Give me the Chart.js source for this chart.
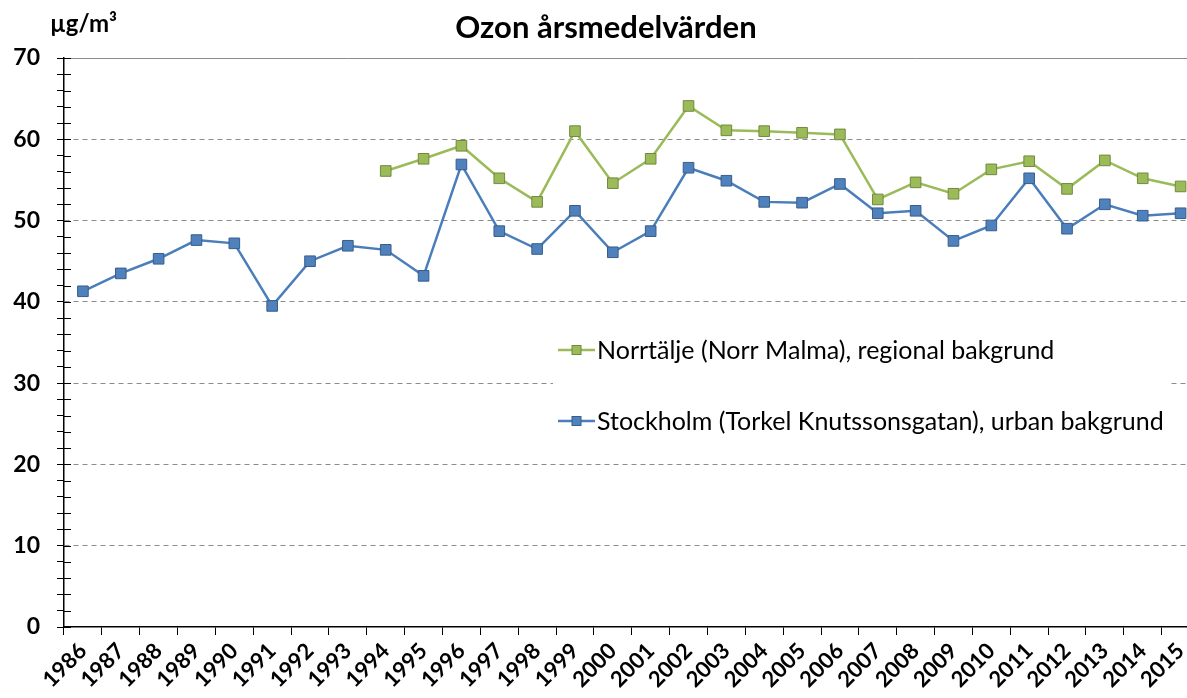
<!DOCTYPE html>
<html>
<head>
<meta charset="utf-8">
<script src="https://cdn.jsdelivr.net/npm/chart.js@4"></script>
<style>
  html, body { margin: 0; padding: 0; background: #fff; overflow: hidden; }
</style>
</head>
<body>
<!-- the original picture is cut off on the right, so the canvas is a bit wider than the window -->
<canvas id="ozon" width="1208" height="698"></canvas>
<script>
const years = [
  "1986", "1987", "1988", "1989", "1990", "1991", "1992", "1993", "1994", "1995",
  "1996", "1997", "1998", "1999", "2000", "2001", "2002", "2003", "2004", "2005",
  "2006", "2007", "2008", "2009", "2010", "2011", "2012", "2013", "2014", "2015",
];

// Norr Malma starts in 1994
const norrtalje = [
  null, null, null, null, null, null, null, null, 56.1, 57.6,
  59.2, 55.2, 52.3, 61.0, 54.6, 57.6, 64.1, 61.1, 61.0, 60.8,
  60.6, 52.6, 54.7, 53.3, 56.3, 57.3, 53.9, 57.4, 55.2, 54.2,
];

const stockholm = [
  41.3, 43.5, 45.3, 47.6, 47.2, 39.5, 45.0, 46.9, 46.4, 43.2,
  56.9, 48.7, 46.5, 51.2, 46.1, 48.7, 56.5, 54.9, 52.3, 52.2,
  54.5, 50.9, 51.2, 47.5, 49.4, 55.2, 49.0, 52.0, 50.6, 50.9,
];

const yLabels = [0, 10, 20, 30, 40, 50, 60, 70];

const seriesNames = [
  "Norrtälje (Norr Malma), regional bakgrund",
  "Stockholm (Torkel Knutssonsgatan), urban bakgrund",
];

Chart.defaults.font.family = "Lato";
Chart.defaults.color = "#000";

// title, unit, inner halves of the y ticks and the legend box
const extras = {
  id: "extras",
  beforeDraw(chart) {
    const ctx = chart.ctx;
    ctx.save();
    ctx.fillStyle = "#fff";
    ctx.fillRect(0, 0, chart.width, chart.height);
    ctx.restore();
  },
  afterDraw(chart) {
    const ctx = chart.ctx;
    const area = chart.chartArea;
    const y = chart.scales.y;

    ctx.save();
    ctx.strokeStyle = "#000";
    ctx.lineWidth = 1;
    y.ticks.forEach((t) => {
      const py = Math.round(y.getPixelForValue(t.value)) + 0.5;
      ctx.beginPath();
      ctx.moveTo(area.left, py);
      ctx.lineTo(area.left + 7, py);
      ctx.stroke();
    });

    ctx.fillStyle = "#000";
    ctx.textBaseline = "alphabetic";
    ctx.textAlign = "center";
    ctx.font = "bold 31px Lato";
    ctx.fillText("Ozon årsmedelvärden", 606, 38);

    ctx.textAlign = "left";
    ctx.font = "bold 24px Lato";
    ctx.fillText("µg/m³", 50, 32);

    // legend
    ctx.textBaseline = "middle";
    ctx.fillStyle = "#fff";
    ctx.fillRect(553, 318, 617, 134);
    const rows = [350, 421];
    chart.data.datasets.forEach((ds, i) => {
      const ry = rows[i];
      ctx.strokeStyle = ds.borderColor;
      ctx.lineWidth = 2.5;
      ctx.beginPath();
      ctx.moveTo(558, ry);
      ctx.lineTo(595, ry);
      ctx.stroke();
      ctx.fillStyle = ds.pointBackgroundColor;
      ctx.strokeStyle = ds.pointBorderColor;
      ctx.lineWidth = 1;
      ctx.fillRect(572, ry - 4.5, 9, 9);
      ctx.strokeRect(572, ry - 4.5, 9, 9);
      ctx.fillStyle = "#000";
      ctx.font = "25px Lato";
      ctx.fillText(ds.label, 597, ry + 1);
    });
    ctx.restore();
  },
};

new Chart(document.getElementById("ozon"), {
  type: "line",
  data: {
    labels: years,
    datasets: [
      {
        label: seriesNames[0],
        data: norrtalje,
        borderColor: "#9bbb59",
        borderWidth: 2.5,
        pointStyle: "rect",
        pointRadius: 7.5,
        pointBorderWidth: 1,
        pointBackgroundColor: "#9bbb59",
        pointBorderColor: "#71893f",
        tension: 0,
      },
      {
        label: seriesNames[1],
        data: stockholm,
        borderColor: "#4a7ebb",
        borderWidth: 2.5,
        pointStyle: "rect",
        pointRadius: 7.5,
        pointBorderWidth: 1,
        pointBackgroundColor: "#4f81bd",
        pointBorderColor: "#385d8a",
        tension: 0,
      },
    ],
  },
  options: {
    responsive: false,
    animation: false,
    events: [],
    layout: {
      padding: { top: 58, right: 2, left: 0, bottom: 0 },
    },
    scales: {
      x: {
        offset: true,
        afterFit: (scale) => {
          scale.height = 71;
          scale.paddingLeft = 0;
          scale.paddingRight = 0;
        },
        grid: {
          offset: true,
          drawOnChartArea: false,
          drawTicks: true,
          tickLength: 8,
          tickColor: "#000",
        },
        border: { color: "#000", width: 1.5 },
        ticks: {
          autoSkip: false,
          maxRotation: 45,
          minRotation: 45,
          padding: 3,
          font: { size: 22, weight: "bold" },
        },
      },
      y: {
        min: 0,
        max: 70,
        afterFit: (scale) => {
          scale.width = 64;
        },
        grid: {
          color: (c) => {
            if (!c.tick) return "#000";
            const v = c.tick.value;
            return v !== 0 && yLabels.includes(v) ? "#8c8c8c" : "rgba(0,0,0,0)";
          },
          tickColor: "#000",
          tickLength: 7,
        },
        border: {
          color: "#000",
          width: 1.5,
          dash: (c) => (c.tick && c.tick.value === 70 ? [] : [5, 4]),
        },
        ticks: {
          stepSize: 2,
          autoSkip: false,
          padding: 17,
          font: { size: 23, weight: "bold" },
          callback: (v) => (yLabels.includes(v) ? v : ""),
        },
      },
    },
    plugins: {
      legend: { display: false },
      tooltip: { enabled: false },
      title: { display: false },
    },
  },
  plugins: [extras],
});
</script>
</body>
</html>
